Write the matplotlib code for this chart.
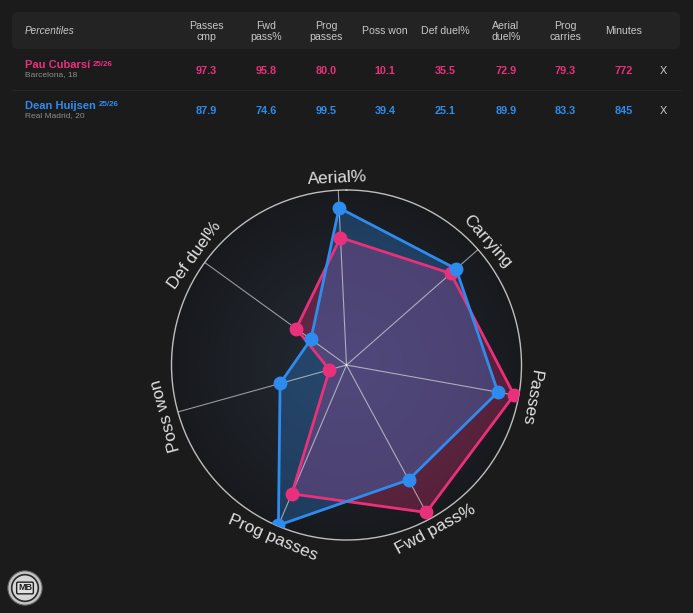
import numpy as np
import matplotlib
matplotlib.use("Agg")
import matplotlib.pyplot as plt
from matplotlib.patches import FancyBboxPatch, Circle
from matplotlib.colors import LinearSegmentedColormap

plt.rcParams['font.family'] = ['Liberation Sans', 'DejaVu Sans']

# --- data ---
columns = ["Passes\ncmp", "Fwd\npass%", "Prog\npasses", "Poss won",
           "Def duel%", "Aerial\nduel%", "Prog\ncarries", "Minutes"]
players = ["Pau Cubarsí", "Dean Huijsen"]
seasons = ["25/26", "25/26"]
clubs = ["Barcelona, 18", "Real Madrid, 20"]
cubarsi = [97.3, 95.8, 80.0, 10.1, 35.5, 72.9, 79.3, 772]
huijsen = [87.9, 74.6, 99.5, 39.4, 25.1, 89.9, 83.3, 845]

radar_labels = ["Aerial%", "Carrying", "Passes", "Fwd pass%",
                "Prog passes", "Poss won", "Def duel%"]
radar_cols = [5, 6, 0, 1, 2, 3, 4]   # which table column feeds each spoke

PINK = "#e9317b"
BLUE = "#2f8cef"
BG = "#1b1b1b"

W, H = 693, 613
fig = plt.figure(figsize=(W / 100, H / 100), dpi=100, facecolor=BG)


def fx(x):
    return x / W


def fy(y):
    return 1 - y / H


# --- table ---
fig.patches.append(FancyBboxPatch((fx(12), fy(49)), (680 - 12) / W, 37 / H,
                                  boxstyle="round,pad=0,rounding_size=0.008",
                                  transform=fig.transFigure, fc="#232323", ec="none"))
fig.add_artist(plt.Line2D([fx(12), fx(680)], [fy(89.5), fy(89.5)],
                          transform=fig.transFigure, color="#272727", lw=0.8))

col_x = [206, 266, 326, 385, 445, 506, 565, 624]
fig.text(fx(25), fy(31.5), "Percentiles", style="italic", color="#c8c8c8",
         fontsize=7.2, ha="left", va="center")
for x, c in zip(col_x, columns):
    fig.text(fx(x), fy(31.5), c, color="#c8c8c8", fontsize=7.6,
             ha="center", va="center", linespacing=1.15)

renderer = fig.canvas.get_renderer()
rows = [cubarsi, huijsen]
colors = [PINK, BLUE]
row_y = [71, 111.5]
for i in range(2):
    y = row_y[i]
    t = fig.text(fx(25), fy(y - 5.5), players[i], color=colors[i], fontsize=8,
                 fontweight="bold", ha="left", va="center")
    bb = t.get_window_extent(renderer=renderer)
    fig.text((bb.x1 + 3) / W, fy(y - 6.5), seasons[i], color=colors[i], fontsize=5.8,
             fontweight="bold", ha="left", va="center")
    fig.text(fx(25), fy(y + 4), clubs[i], color="#8e8e8e", fontsize=6,
             ha="left", va="center")
    for j, x in enumerate(col_x):
        v = rows[i][j]
        s = f"{v:.0f}" if j == len(col_x) - 1 else f"{v:.1f}"
        fig.text(fx(x), fy(y), s, color=colors[i], fontsize=7.8,
                 fontweight="bold", ha="center", va="center")
    fig.text(fx(663), fy(y), "X", color="#cfcfcf", fontsize=7.8,
             ha="center", va="center")

# --- radar ---
cx, cy, R = 346.5, 365, 175
ax = fig.add_axes([fx(cx - R), fy(cy + R), 2 * R / W, 2 * R / H], projection="polar")
ax.set_theta_zero_location("N")
ax.set_theta_direction(-1)
ax.set_facecolor("none")
ax.set_ylim(0, 100)
ax.set_xticks([])
ax.set_yticks([])
ax.grid(False)
ax.spines["polar"].set_color("#bdbdbd")
ax.spines["polar"].set_linewidth(1.0)

# subtle radial gradient inside the disc
cmap = LinearSegmentedColormap.from_list("disc", ["#232934", "#1e2229", "#17191d"])
th = np.linspace(0, 2 * np.pi, 181)
rr = np.linspace(0, 100, 60)
Z = np.tile(rr[:-1, None], (1, len(th) - 1))
ax.pcolormesh(th, rr, Z, cmap=cmap, shading="flat", zorder=0)

n = len(radar_labels)
ang = np.deg2rad(-2.7 + np.arange(n) * 360 / n)
ang_c = np.append(ang, ang[0])

for k, (vals, col) in enumerate([(cubarsi, PINK), (huijsen, BLUE)]):
    r = [vals[c] for c in radar_cols]
    r_c = np.append(r, r[0])
    ax.fill(ang_c, r_c, color=col, alpha=0.3, lw=0, zorder=2)
    ax.plot(ang_c, r_c, color=col, lw=2, zorder=5 + k)
    ax.plot(ang, r, "o", color=col, ms=9, zorder=7 + k)

for a in ang:
    ax.plot([a, a], [0, 100], color="white", alpha=0.55, lw=0.8, zorder=4)

for a, lab in zip(ang, radar_labels):
    deg = np.rad2deg(a) % 360
    rot = -deg
    if 120 < deg < 240:
        rot += 180
    ax.text(a, 107, lab, rotation=rot, rotation_mode="anchor", ha="center",
            va="center", fontsize=12.3, color="#e0e0e0")

# --- logo ---
lax = fig.add_axes([fx(7), fy(606), 36 / W, 36 / H])
lax.set_xlim(-1, 1)
lax.set_ylim(-1, 1)
lax.set_aspect("equal")
lax.axis("off")
lax.add_patch(Circle((0, 0), 0.95, fc="#c4c4c4", ec="#666666", lw=0.8))
lax.add_patch(Circle((0, 0), 0.74, fc="#d6d6d6", ec="#2a2a2a", lw=1.2))
lax.text(0, 0, "MB", fontsize=6.5, fontweight="bold", color="#1e1e1e", ha="center",
         va="center", bbox=dict(boxstyle="round,pad=0.15", fc="#e0e0e0", ec="#1e1e1e", lw=1))

fig.savefig("out.png", dpi=100, facecolor=fig.get_facecolor())
